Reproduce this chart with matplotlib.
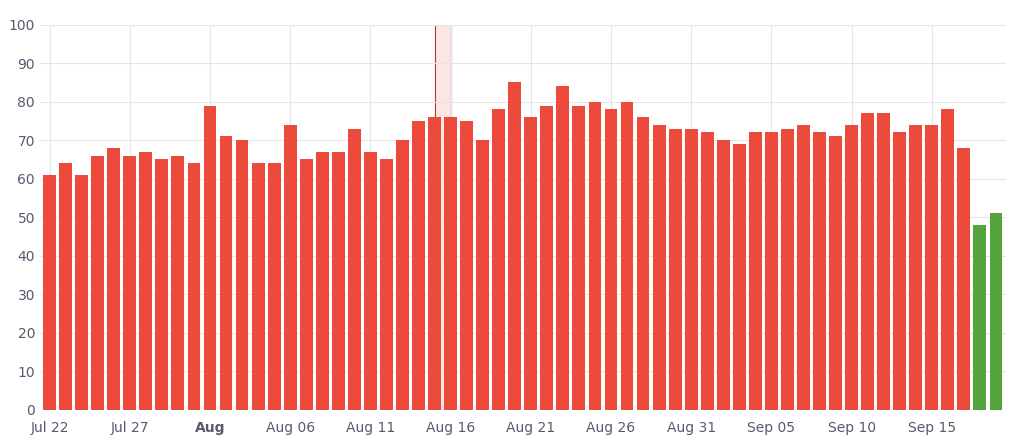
import numpy as np
import pandas as pd
import matplotlib.pyplot as plt

dates = pd.date_range('2023-07-22', '2023-09-19', freq='D')
values = [61, 64, 61, 66, 68, 66, 67, 65, 66, 64,
          79, 71, 70, 64, 64, 74, 65, 67, 67, 73, 67, 65, 70, 75, 76, 76, 75, 70, 78, 85,
          76, 79, 84, 79, 80, 78, 80, 76, 74, 73, 73,
          72, 70, 69, 72, 72, 73, 74, 72, 71, 74, 77, 77, 72, 74, 74, 78, 68, 48, 51]
good = [False] * 58 + [True, True]
highlight_day = pd.Timestamp('2023-08-15')
tick_days = ['2023-07-22', '2023-07-27', '2023-08-01', '2023-08-06', '2023-08-11', '2023-08-16',
             '2023-08-21', '2023-08-26', '2023-08-31', '2023-09-05', '2023-09-10', '2023-09-15']
tick_labels = ['Jul 22', 'Jul 27', 'Aug', 'Aug 06', 'Aug 11', 'Aug 16',
               'Aug 21', 'Aug 26', 'Aug 31', 'Sep 05', 'Sep 10', 'Sep 15']

x = np.arange(len(dates))
colors = ['#55a33d' if g else '#ec4a3a' for g in good]

fig = plt.figure(figsize=(10.24, 4.47), dpi=100)
ax = fig.add_axes([0.039, 0.083, 0.943, 0.862])
hx = list(dates).index(highlight_day)
# band runs from the middle of the day to the middle of the next one
ax.axvspan(hx, hx + 1, color='#f9e6e5', zorder=0)
ax.axvline(hx, color='#c0392b', lw=0.8, zorder=0)
ax.axvline(hx + 1, color='#c0392b', lw=0.8, zorder=0)
ax.bar(x, values, width=0.8, color=colors, zorder=2)

tpos = [list(dates).index(pd.Timestamp(d)) for d in tick_days]
ax.set_xticks(tpos)
ax.set_xticklabels(tick_labels)
for lbl in ax.get_xticklabels():
    if lbl.get_text() == 'Aug':
        lbl.set_fontweight('bold')
ax.set_xlim(-0.6, len(dates) - 0.4)
ax.set_ylim(0, 100)
ax.set_yticks(range(0, 101, 10))
ax.grid(True, color='#e6e6e6', lw=0.8, zorder=0)
ax.set_axisbelow(True)
for s in ax.spines.values():
    s.set_visible(False)
ax.tick_params(length=0, colors='#555a6e', labelsize=10)
ax.tick_params(axis='x', pad=8)
fig.savefig('out.png')
